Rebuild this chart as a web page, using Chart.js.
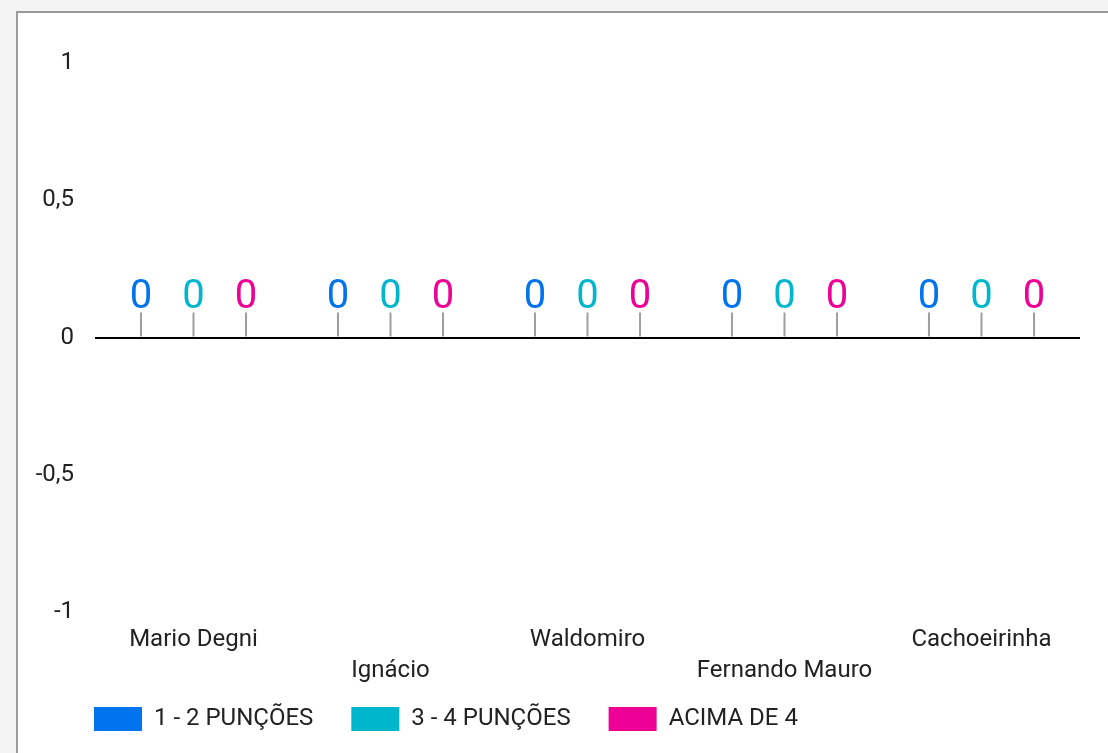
<!DOCTYPE html>
<html>
<head>
<meta charset="utf-8">
<script src="https://cdn.jsdelivr.net/npm/chart.js@4/dist/chart.umd.min.js"></script>
<style>
  html, body { margin: 0; padding: 0; background: #f4f4f4; overflow: hidden; width: 1108px; height: 753px; }
  #box { position: absolute; left: 16px; top: 11px; width: 1120px; height: 800px; border: 2px solid #9a9a9a; background: #ffffff; }
  #c { position: absolute; left: 0; top: 0; }
</style>
</head>
<body>
<div id="box"><canvas id="c" width="1090" height="728"></canvas></div>
<script>
const categories = ['Mario Degni', 'Ignácio', 'Waldomiro', 'Fernando Mauro', 'Cachoeirinha'];
const seriesNames = ['1 - 2 PUNÇÕES', '3 - 4 PUNÇÕES', 'ACIMA DE 4'];
const series12 = [0, 0, 0, 0, 0];
const series34 = [0, 0, 0, 0, 0];
const seriesAbove4 = [0, 0, 0, 0, 0];
const yTicks = [-1, -0.5, 0, 0.5, 1];
const colors = ['#0073ee', '#00b6cc', '#ee0096'];

const FONT = 'Roboto';

const valueLabels = {
  id: 'valueLabels',
  afterDatasetsDraw(chart) {
    const ctx = chart.ctx;
    ctx.save();
    chart.data.datasets.forEach((ds, di) => {
      const meta = chart.getDatasetMeta(di);
      meta.data.forEach((el, i) => {
        const x = el.x;
        const y = el.y;
        ctx.strokeStyle = '#9e9e9e';
        ctx.lineWidth = 2;
        ctx.beginPath();
        ctx.moveTo(x, y - 1);
        ctx.lineTo(x, y - 25);
        ctx.stroke();
        ctx.fillStyle = ds.backgroundColor;
        ctx.font = '40px ' + FONT;
        ctx.textAlign = 'center';
        ctx.textBaseline = 'alphabetic';
        ctx.fillText(String(ds.data[i]).replace('.', ','), x, y - 30);
      });
    });
    ctx.restore();
  }
};

// let tick labels draw outside their own axis box (no clipping)
const noLabelClip = (s) => { s._computeLabelArea = () => undefined; };

new Chart(document.getElementById('c'), {
  type: 'bar',
  data: {
    labels: categories,
    datasets: [
      { label: seriesNames[0], data: series12, backgroundColor: colors[0] },
      { label: seriesNames[1], data: series34, backgroundColor: colors[1] },
      { label: seriesNames[2], data: seriesAbove4, backgroundColor: colors[2] }
    ]
  },
  options: {
    responsive: false,
    animation: false,
    devicePixelRatio: 1,
    layout: { padding: { left: 38, right: 28, top: 50, bottom: 0 } },
    datasets: { bar: { categoryPercentage: 0.8, barPercentage: 0.9 } },
    plugins: {
      legend: {
        position: 'bottom',
        align: 'start',
        labels: {
          boxWidth: 48,
          boxHeight: 24,
          padding: 38,
          color: '#222222',
          font: { family: FONT, size: 24 }
        }
      },
      tooltip: { enabled: false }
    },
    scales: {
      x: {
        grid: { display: false },
        border: { display: false },
        ticks: {
          autoSkip: false,
          maxRotation: 0,
          padding: 4,
          color: '#222222',
          font: { family: FONT, size: 24, lineHeight: 1.3 },
          callback: function (value, index) {
            const name = this.getLabelForValue(value);
            return index % 2 === 0 ? [name, ''] : ['', name];
          }
        },
        afterFit: (s) => { s.height = 57; noLabelClip(s); }
      },
      y: {
        min: -1,
        max: 1,
        afterBuildTicks: (s) => { s.ticks = yTicks.map(v => ({ value: v })); },
        grid: {
          drawTicks: false,
          lineWidth: 2,
          color: (c) => (c.tick && c.tick.value === 0 ? '#000000' : 'rgba(0,0,0,0)')
        },
        border: { display: false },
        ticks: {
          padding: 21,
          color: '#222222',
          font: { family: FONT, size: 24 },
          callback: (v) => String(v).replace('.', ',')
        },
        afterFit: (s) => { s.width = 39; noLabelClip(s); }
      }
    }
  },
  plugins: [valueLabels]
});
</script>
</body>
</html>
